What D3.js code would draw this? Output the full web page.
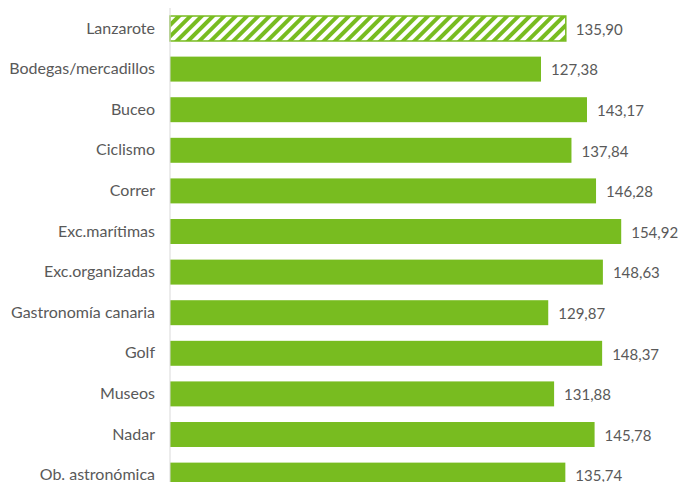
<!DOCTYPE html>
<html>
<head>
<meta charset="utf-8">
<script src="https://cdn.jsdelivr.net/npm/d3@7"></script>
<style>
  html, body { margin: 0; padding: 0; background: #fff; overflow: hidden; }
  svg { display: block; }
  text { font-family: Lato, "Open Sans", sans-serif; font-size: 15px; fill: #595959; }
</style>
</head>
<body>
<svg id="chart" width="678" height="482"></svg>
<script>
var categories = [
  'Lanzarote', 'Bodegas/mercadillos', 'Buceo', 'Ciclismo', 'Correr',
  'Exc.marítimas', 'Exc.organizadas', 'Gastronomía canaria', 'Golf',
  'Museos', 'Nadar', 'Ob. astronómica'
];
var values = [135.90, 127.38, 143.17, 137.84, 146.28, 154.92, 148.63, 129.87, 148.37, 131.88, 145.78, 135.74];
var hatched = ['Lanzarote'];

var green = '#78bc20';
var svg = d3.select('#chart');

var x = d3.scaleLinear()
  .domain([0, 160])
  .range([170, 636]);

var step = 40.6;
var y = d3.scaleBand()
  .domain(categories)
  .range([8.2, 8.2 + categories.length * step])
  .paddingInner(0.385)
  .paddingOuter(0.1925);

var fmt = function(v) {
  return d3.format('.2f')(v).replace('.', ',');
};

var defs = svg.append('defs');
var pat = defs.append('pattern')
  .attr('id', 'hatch')
  .attr('patternUnits', 'userSpaceOnUse')
  .attr('width', 8)
  .attr('height', 8)
  .attr('patternTransform', 'rotate(45)');
pat.append('rect')
  .attr('width', 8).attr('height', 8).attr('fill', '#fff');
pat.append('rect')
  .attr('width', 4).attr('height', 8).attr('fill', green);

var data = categories.map(function(c, i) {
  return { cat: c, value: values[i] };
});

var bars = svg.append('g').selectAll('g')
  .data(data)
  .enter()
  .append('g');

bars.append('rect')
  .attr('x', x(0))
  .attr('y', function(d) { return y(d.cat); })
  .attr('width', function(d) { return x(d.value) - x(0); })
  .attr('height', y.bandwidth())
  .attr('fill', function(d) {
    return hatched.indexOf(d.cat) >= 0 ? 'url(#hatch)' : green;
  })
  .attr('stroke', function(d) {
    return hatched.indexOf(d.cat) >= 0 ? green : 'none';
  })
  .attr('stroke-width', 1.5);

bars.append('text')
  .attr('x', function(d) { return x(d.value) + 10; })
  .attr('y', function(d) { return y(d.cat) + y.bandwidth() / 2 + 1; })
  .attr('dy', '0.35em')
  .text(function(d) { return fmt(d.value); });

var axis = svg.append('g')
  .attr('transform', 'translate(' + x(0) + ',0)')
  .call(d3.axisLeft(y).tickSize(0).tickPadding(15));

axis.select('.domain')
  .attr('d', 'M0,8V500')
  .attr('stroke', '#d9d9d9');

axis.selectAll('text')
  .style('font-size', '16px')
  .style('font-family', 'Lato, "Open Sans", sans-serif')
  .attr('fill', '#595959');
</script>
</body>
</html>
